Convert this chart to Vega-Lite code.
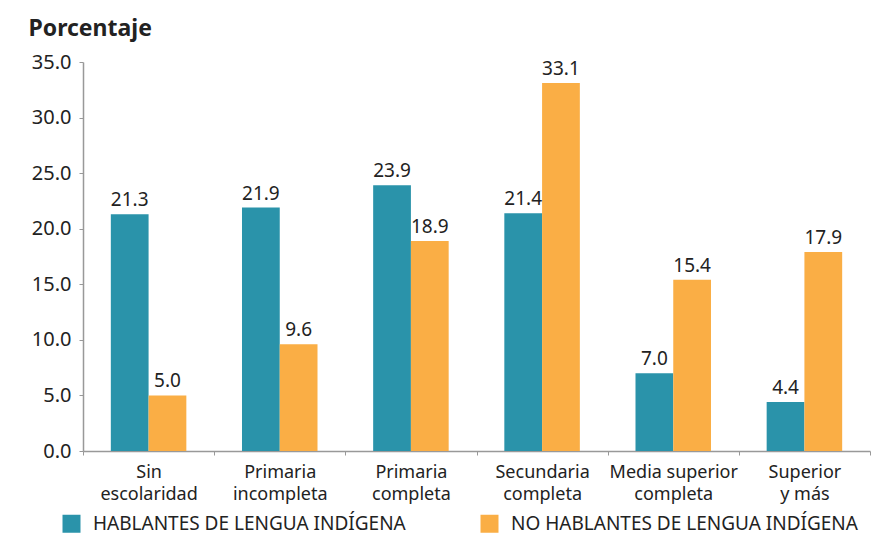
{
  "$schema": "https://vega.github.io/schema/vega-lite/v6.json",
  "width": 787,
  "height": 389,
  "autosize": {"type": "none"},
  "padding": {"left": 83, "top": 62, "right": 2, "bottom": 90},
  "background": "white",
  "config": {
    "font": "Noto Sans",
    "view": {"stroke": null}
  },
  "data": {
    "values": [
      {"cat": "Sin|escolaridad", "grupo": "HABLANTES DE LENGUA INDÍGENA", "valor": 21.3},
      {"cat": "Sin|escolaridad", "grupo": "NO HABLANTES DE LENGUA INDÍGENA", "valor": 5.0},
      {"cat": "Primaria|incompleta", "grupo": "HABLANTES DE LENGUA INDÍGENA", "valor": 21.9},
      {"cat": "Primaria|incompleta", "grupo": "NO HABLANTES DE LENGUA INDÍGENA", "valor": 9.6},
      {"cat": "Primaria|completa", "grupo": "HABLANTES DE LENGUA INDÍGENA", "valor": 23.9},
      {"cat": "Primaria|completa", "grupo": "NO HABLANTES DE LENGUA INDÍGENA", "valor": 18.9},
      {"cat": "Secundaria|completa", "grupo": "HABLANTES DE LENGUA INDÍGENA", "valor": 21.4},
      {"cat": "Secundaria|completa", "grupo": "NO HABLANTES DE LENGUA INDÍGENA", "valor": 33.1},
      {"cat": "Media superior|completa", "grupo": "HABLANTES DE LENGUA INDÍGENA", "valor": 7.0},
      {"cat": "Media superior|completa", "grupo": "NO HABLANTES DE LENGUA INDÍGENA", "valor": 15.4},
      {"cat": "Superior|y más", "grupo": "HABLANTES DE LENGUA INDÍGENA", "valor": 4.4},
      {"cat": "Superior|y más", "grupo": "NO HABLANTES DE LENGUA INDÍGENA", "valor": 17.9}
    ]
  },
  "encoding": {
    "x": {
      "field": "cat", "type": "nominal", "sort": null,
      "scale": {"paddingInner": 0, "paddingOuter": 0},
      "axis": {
        "title": null, "labelAngle": 0,
        "labelExpr": "split(datum.label, '|')",
        "labelFontSize": 18, "labelColor": "#222222", "labelPadding": 8, "labelLineHeight": 22,
        "tickBand": "extent", "tickSize": 4, "tickColor": "#999999",
        "domainColor": "#999999", "domainWidth": 1.5
      }
    },
    "xOffset": {
      "field": "grupo", "type": "nominal",
      "scale": {"paddingInner": 0, "paddingOuter": 0.737}
    },
    "y": {
      "field": "valor", "type": "quantitative",
      "scale": {"domain": [0, 35], "nice": false},
      "axis": {
        "values": [0, 5, 10, 15, 20, 25, 30, 35], "format": ".1f",
        "grid": false, "labelFontSize": 20, "labelColor": "#222222", "labelPadding": 8,
        "tickSize": 4, "tickColor": "#999999", "domainColor": "#999999", "domainWidth": 1.5,
        "title": "Porcentaje", "titleAngle": 0, "titleAlign": "left", "titleBaseline": "alphabetic",
        "titleX": -55, "titleY": -27, "titleFontSize": 23, "titleFontWeight": "bold", "titleColor": "#222222"
      }
    }
  },
  "layer": [
    {
      "mark": {"type": "bar"},
      "encoding": {
        "color": {
          "field": "grupo", "type": "nominal",
          "scale": {"domain": ["HABLANTES DE LENGUA INDÍGENA", "NO HABLANTES DE LENGUA INDÍGENA"], "range": ["#2A93AA", "#FAAE45"]},
          "legend": {
            "title": null, "orient": "none", "direction": "horizontal",
            "legendX": -21, "legendY": 452,
            "symbolType": "square", "symbolSize": 324, "symbolStrokeWidth": 0,
            "labelFontSize": 19, "labelColor": "#222222", "labelOffset": 12,
            "columnPadding": 74, "labelLimit": 400
          }
        }
      }
    },
    {
      "mark": {"type": "text", "dy": -14, "fontSize": 19, "color": "#222222"},
      "encoding": {
        "text": {"field": "valor", "type": "quantitative", "format": ".1f"}
      }
    }
  ]
}
